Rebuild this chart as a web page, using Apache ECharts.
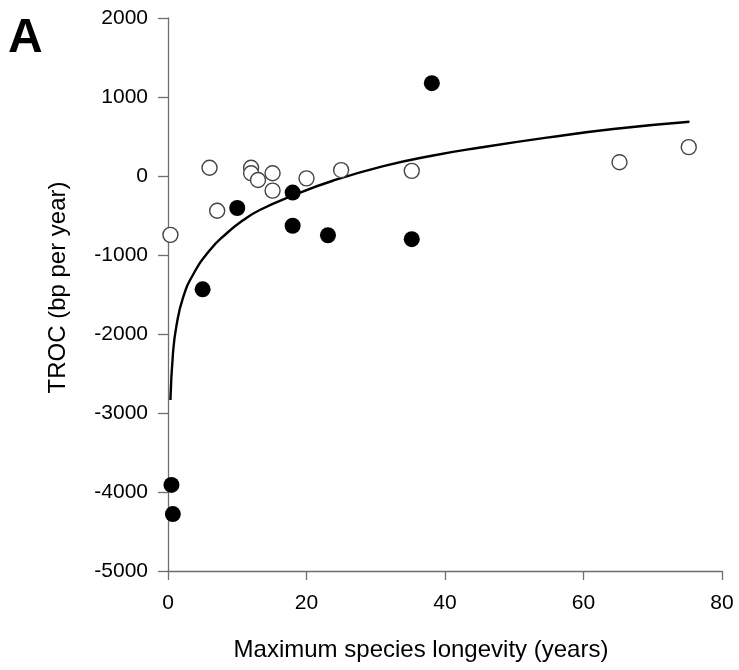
<!DOCTYPE html>
<html>
<head>
<meta charset="utf-8">
<script src="https://cdn.jsdelivr.net/npm/echarts@6/dist/echarts.min.js"></script>
<style>
html,body{margin:0;padding:0;background:#fff;}
#chart{width:739px;height:670px;}
</style>
</head>
<body>
<div id="chart"></div>
<script>
// Filled circles
var filledX = [0.5, 0.7, 5.0, 10.0, 18.0, 18.0, 23.1, 35.2, 38.1];
var filledY = [-3910, -4280, -1435, -405, -210, -630, -750, -800, 1175];
// Open circles
var openX = [0.35, 6.0, 7.1, 12.0, 12.0, 13.0, 15.1, 15.1, 20.0, 25.0, 35.2, 65.2, 75.2];
var openY = [-745, 105, -440, 105, 35, -50, 35, -185, -30, 75, 65, 175, 365];
// Fitted curve
var curveX = [0.35, 0.72, 1.21, 2.17, 3.61, 6.03, 8.44, 10.84, 13.25, 18.06, 23.8, 31.1, 38.3, 45.1, 54.7, 64.3, 75.3];
var curveY = [-2835, -2244, -1900, -1540, -1250, -940, -728, -560, -430, -245, -60, 125, 260, 360, 485, 595, 687];
// Axis ticks
var xTicks = [0, 20, 40, 60, 80];
var yTicks = [-5000, -4000, -3000, -2000, -1000, 0, 1000, 2000];

function pairs(xs, ys){ return xs.map(function(x,i){ return [x, ys[i]]; }); }

var FONT = 'Liberation Sans, Arial, sans-serif';
var chart = echarts.init(document.getElementById('chart'), null, {renderer:'canvas'});
chart.setOption({
  animation: false,
  backgroundColor: '#fff',
  grid: {left: 168, right: 17, top: 18, bottom: 99, containLabel: false},
  graphic: [{
    type: 'text', left: 8, top: 15,
    style: {text: 'A', font: 'bold 48px ' + FONT, fill: '#000'}
  }],
  xAxis: {
    type: 'value', min: xTicks[0], max: xTicks[xTicks.length-1], interval: 20,
    name: 'Maximum species longevity (years)', nameLocation: 'middle', nameGap: 67,
    nameTextStyle: {fontFamily: FONT, fontSize: 24, color: '#000', padding: [0, 48, 0, 0]},
    axisLine: {show: true, onZero: false, lineStyle: {color: '#6e6e6e', width: 1.3}},
    axisTick: {show: true, inside: false, length: 9, lineStyle: {color: '#6e6e6e', width: 1.3}},
    axisLabel: {fontFamily: FONT, fontSize: 21, color: '#000', margin: 22,
      formatter: function(v){ return String(v); }},
    splitLine: {show: false}
  },
  yAxis: {
    type: 'value', min: yTicks[0], max: yTicks[yTicks.length-1], interval: 1000,
    name: 'TROC (bp per year)', nameLocation: 'middle', nameGap: 98,
    nameTextStyle: {fontFamily: FONT, fontSize: 24, color: '#000', padding: [0,0,0,14]},
    axisLine: {show: true, onZero: false, lineStyle: {color: '#6e6e6e', width: 1.3}},
    axisTick: {show: true, inside: false, length: 10, lineStyle: {color: '#6e6e6e', width: 1.3}},
    axisLabel: {fontFamily: FONT, fontSize: 21, color: '#000', margin: 20,
      formatter: function(v){ return String(v); }},
    splitLine: {show: false}
  },
  series: [
    {
      type: 'line', data: pairs(curveX, curveY), showSymbol: false, symbol: 'none',
      smooth: 0.5,
      lineStyle: {color: '#000', width: 2.4}, z: 1
    },
    {
      type: 'scatter', data: pairs(openX, openY), symbol: 'circle', symbolSize: 15,
      itemStyle: {color: '#fff', borderColor: '#444', borderWidth: 1.4, opacity: 1}, z: 2
    },
    {
      type: 'scatter', data: pairs(filledX, filledY), symbol: 'circle', symbolSize: 16,
      itemStyle: {color: '#000', borderColor: '#000', borderWidth: 0, opacity: 1}, z: 3
    }
  ]
});
</script>
</body>
</html>
